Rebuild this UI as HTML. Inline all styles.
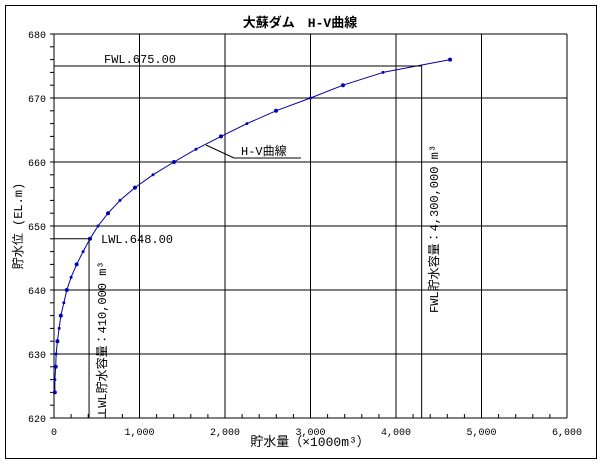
<!DOCTYPE html>
<html><head><meta charset="utf-8"><style>
body{margin:0;background:#fff;}
svg{display:block;}
text{font-family:"Liberation Mono","Noto Sans CJK JP",monospace;fill:#000;}
</style></head><body>
<svg width="604" height="465" viewBox="0 0 604 465">
<rect x="5.5" y="5.5" width="591" height="453" fill="#fff" stroke="#000"/>
<text x="300" y="27" text-anchor="middle" font-size="13" font-weight="bold" font-family="Liberation Sans,Noto Sans CJK JP,sans-serif">大蘇ダム　H-V曲線</text>
<g id="grid"></g>
<g id="axes"></g>
<g id="series"></g>
<text transform="translate(22,226) rotate(-90)" text-anchor="middle" font-size="12" font-family="Noto Sans CJK JP,sans-serif">貯水位 (EL.m)</text>
<text x="310" y="446" text-anchor="middle" font-size="13" font-family="Noto Sans CJK JP,sans-serif">貯水量（×1000m³）</text>
<g id="ann"></g>
</svg>
<script>
const volumes=[10,10,20,25,40,60,80,115,150,200,265,340,421,515,632,772,947,1158,1403,1661,1953,2257,2597,3000,3380,3848,4632];
const levels=[624,626,628,630,632,634,636,638,640,642,644,646,648,650,652,654,656,658,660,662,664,666,668,670,672,674,676];
const xTicks=[0,1000,2000,3000,4000,5000,6000];
const xTickLabels=["0","1,000","2,000","3,000","4,000","5,000","6,000"];
const yTicks=[620,630,640,650,660,670,680];
const fwlLevel=675, fwlVolume=4300, lwlLevel=648, lwlVolume=410;
const X0=54,X1=567,Y0=418,Y1=34;
const sx=v=>X0+(v-0)/6000*(X1-X0);
const sy=v=>Y0-(v-620)/60*(Y0-Y1);
const NS="http://www.w3.org/2000/svg";
function mk(tag,attrs,parent,text){const e=document.createElementNS(NS,tag);for(const k in attrs)e.setAttribute(k,attrs[k]);if(text!==undefined)e.textContent=text;document.getElementById(parent).appendChild(e);return e;}
xTicks.forEach((t,i)=>{
 const l=mk('line',{x1:sx(t),x2:sx(t),y1:Y0,y2:Y1,stroke:'#000','stroke-width':1},'grid');
 
 
 const tx=mk('text',{x:sx(t),y:Y0+17,'text-anchor':'middle','font-size':10},'axes',xTickLabels[i]);
 
 
});
yTicks.forEach(t=>{
 const l=mk('line',{x1:X0,x2:X1,y1:sy(t),y2:sy(t),stroke:'#000','stroke-width':1},'grid');
 
 
 const tx=mk('text',{x:X0-8,y:sy(t)+4,'text-anchor':'end','font-size':10},'axes',String(t));
 
 
});
for(let v=0;v<=6000;v+=200){const m=mk('line',{x1:sx(v),x2:sx(v),y1:Y0,y2:Y0-4,stroke:'#000'},'axes');
 
 }
for(let v=620;v<=680;v+=2){const m=mk('line',{x1:X0-4,x2:X0,y1:sy(v),y2:sy(v),stroke:'#000'},'axes');
 
 }
// reference lines
const f1=mk('polyline',{points:`${sx(0)},${sy(fwlLevel)} ${sx(fwlVolume)},${sy(fwlLevel)} ${sx(fwlVolume)},${Y0}`,fill:'none',stroke:'#000'},'ann');


const l1=mk('polyline',{points:`${sx(0)},${sy(lwlLevel)} ${sx(lwlVolume)},${sy(lwlLevel)} ${sx(lwlVolume)},${Y0}`,fill:'none',stroke:'#000'},'ann');


const pts=volumes.map((v,i)=>sx(v)+','+sy(levels[i])).join(' ');
const pl=mk('polyline',{points:pts,fill:'none',stroke:'#0000a0','stroke-width':1},'series');


volumes.forEach((v,i)=>{const c=mk('circle',{cx:sx(v),cy:sy(levels[i]),r:(levels[i]%4===0)?2:1.5,fill:'#0000c0'},'series');
 
 });
</script>
<svg width="604" height="465" style="position:absolute;left:0;top:0">
<text x="104" y="63" font-size="12">FWL.675.00</text>
<text x="101" y="243" font-size="12">LWL.648.00</text>
<text transform="translate(106,415) rotate(-90)" font-size="12">LWL貯水容量：410,000 m³</text>
<text transform="translate(438,313) rotate(-90)" font-size="12">FWL貯水容量：4,300,000 m³</text>
<polyline points="206,145 234,158 301,158" fill="none" stroke="#000"/>
<text x="241" y="155" font-size="12">H-V曲線</text>
</svg>
</body></html>
